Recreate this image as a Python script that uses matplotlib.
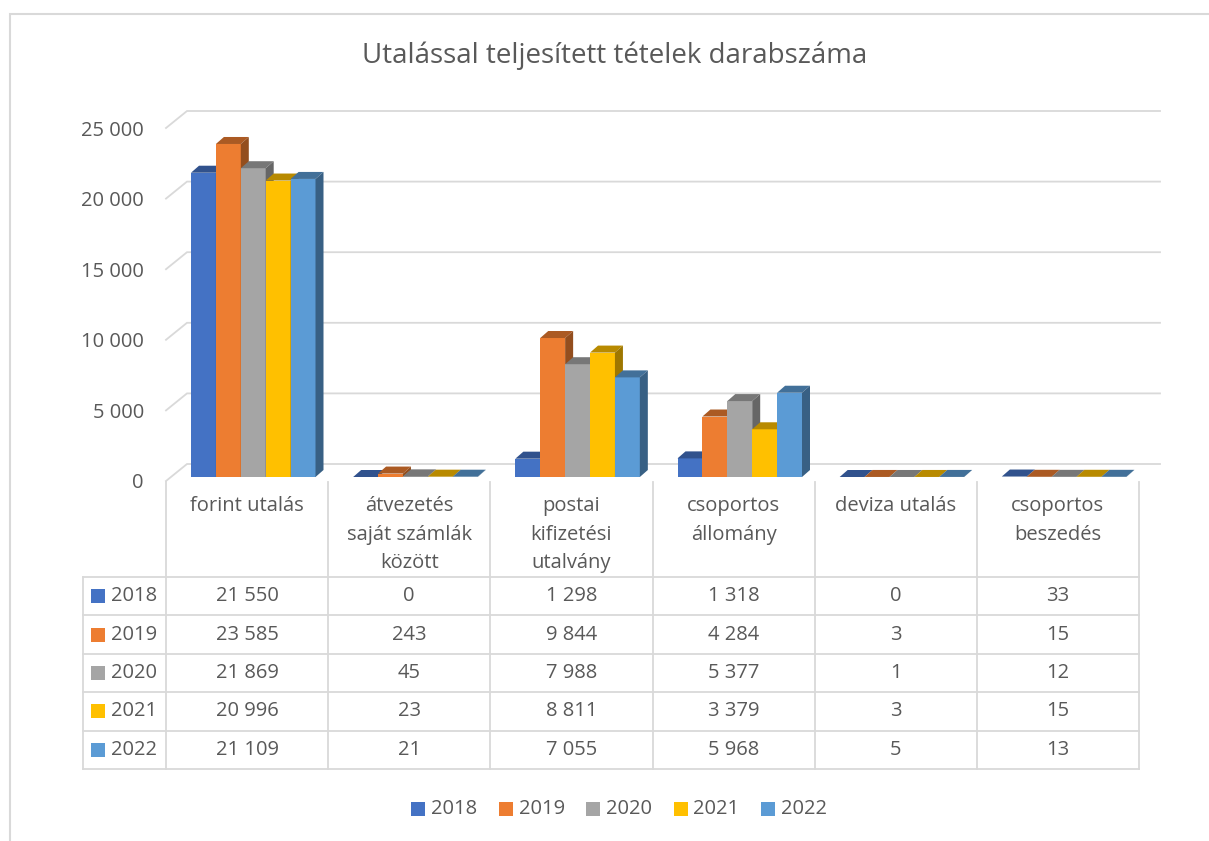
import matplotlib
matplotlib.use("Agg")
import matplotlib.pyplot as plt
from matplotlib.patches import Polygon, Rectangle
from matplotlib.ticker import FuncFormatter
import numpy as np

plt.rcParams['font.family'] = ['Open Sans', 'DejaVu Sans']

# ---------------- data ----------------
title = "Utalással teljesített tételek darabszáma"
categories = ["forint utalás", "átvezetés\nsaját számlák\nközött", "postai\nkifizetési\nutalvány",
              "csoportos\nállomány", "deviza utalás", "csoportos\nbeszedés"]
years = ["2018", "2019", "2020", "2021", "2022"]
v2018 = [21550, 0, 1298, 1318, 0, 33]
v2019 = [23585, 243, 9844, 4284, 3, 15]
v2020 = [21869, 45, 7988, 5377, 1, 12]
v2021 = [20996, 23, 8811, 3379, 3, 15]
v2022 = [21109, 21, 7055, 5968, 5, 13]
series = [v2018, v2019, v2020, v2021, v2022]
yticks = [0, 5000, 10000, 15000, 20000, 25000]

colors = ["#4472C4", "#ED7D31", "#A5A5A5", "#FFC000", "#5B9BD5"]
TXT = "#595959"
GRID = "#D9D9D9"

def fmt(v):
    return f"{int(v):,}".replace(",", " ")

def shade(c, f):
    c = np.array(matplotlib.colors.to_rgb(c))
    return tuple(c * f)

# ---------------- layout (pixels) ----------------
W, H = 1209, 841
X0, X1 = 166, 1139          # table / category span
Y0, Y25 = 481, 128          # value axis: 0 and 25000
CW = (X1 - X0) / 6.0
PPU = (Y0 - Y25) / 25000.0  # pixels per unit

fig = plt.figure(figsize=(W / 100, H / 100), dpi=100)
fig.patch.set_facecolor("white")

ax = fig.add_axes([X0 / W, (H - Y0) / H, (X1 - X0) / W, (Y0 - Y25) / H])
ax.set_xlim(0, 6)
ax.set_ylim(0, 25000)
ax.set_facecolor("none")
for s in ax.spines.values():
    s.set_visible(False)
ax.set_xticks([])
ax.set_yticks(yticks)
ax.yaxis.set_major_formatter(FuncFormatter(lambda v, p: fmt(v)))
ax.tick_params(axis="y", length=0, pad=16, labelsize=14.5, labelcolor=TXT)

# depth geometry in data units
WALL_DX = 21 / CW
WALL_DY = 17 / PPU
RIGHT_END = (1160 - X0) / CW
BAR_OFF = 25 / CW
BAR_W = 24.9 / CW
BAR_BOT = 4 / PPU
SIDE_DX = 8 / CW
SIDE_DY = 7 / PPU

# walls' gridlines
for v in yticks:
    ax.plot([0, WALL_DX, RIGHT_END], [v, v + WALL_DY, v + WALL_DY],
            color=GRID, lw=1.3, clip_on=False, zorder=1, solid_joinstyle="miter")

# 3D bars
z = 2
for c in range(len(categories)):
    for i, vals in enumerate(series):
        v = vals[c]
        x0 = c + BAR_OFF + i * BAR_W
        b = BAR_BOT
        t = b + v
        ax.bar(x0, v, width=BAR_W, bottom=b, align="edge", color=colors[i],
               linewidth=0, zorder=z, clip_on=False)
        top = Polygon([(x0, t), (x0 + BAR_W, t), (x0 + BAR_W + SIDE_DX, t + SIDE_DY),
                       (x0 + SIDE_DX, t + SIDE_DY)], closed=True,
                      facecolor=shade(colors[i], 0.72), edgecolor="none", zorder=z, clip_on=False)
        side = Polygon([(x0 + BAR_W, b), (x0 + BAR_W + SIDE_DX, b + SIDE_DY),
                        (x0 + BAR_W + SIDE_DX, t + SIDE_DY), (x0 + BAR_W, t)], closed=True,
                       facecolor=shade(colors[i], 0.62), edgecolor="none", zorder=z, clip_on=False)
        ax.add_patch(top)
        ax.add_patch(side)
        z += 1

# ---------------- overlay in pixel coordinates ----------------
ov = fig.add_axes([0, 0, 1, 1])
ov.set_xlim(0, W)
ov.set_ylim(H, 0)
ov.axis("off")
ov.set_zorder(5)

# outer border (cropped)
ov.plot([10, 10, W], [H, 14, 14], color=GRID, lw=1.5, solid_joinstyle="miter")

# title
ov.text(615, 56, title, ha="center", va="center", fontsize=20, color=TXT)

# data table
ROW_TOP = 577
RH = (769 - 577) / 5.0
LEFT = 83
for i in range(7):
    x = X0 + i * CW
    ov.plot([x, x], [482, 769], color=GRID, lw=1.3)
ov.plot([LEFT, LEFT], [ROW_TOP, 769], color=GRID, lw=1.3)
for k in range(6):
    y = ROW_TOP + k * RH
    ov.plot([LEFT, X1], [y, y], color=GRID, lw=1.3)

for c, lab in enumerate(categories):
    ov.text(X0 + (c + 0.5) * CW, 496, lab, ha="center", va="top", fontsize=14.5,
            color=TXT, linespacing=1.57)

for r, (yr, vals) in enumerate(zip(years, series)):
    yc = ROW_TOP + (r + 0.5) * RH
    ov.add_patch(Rectangle((91, yc - 7), 14, 14, facecolor=colors[r], edgecolor="none"))
    ov.text(111, yc, yr, ha="left", va="center", fontsize=14.5, color=TXT)
    for c, v in enumerate(vals):
        ov.text(X0 + (c + 0.5) * CW, yc, fmt(v), ha="center", va="center",
                fontsize=14.5, color=TXT)

# bottom legend
lx = 411
for i, yr in enumerate(years):
    x = lx + i * 87.5
    ov.add_patch(Rectangle((x, 802), 14, 14, facecolor=colors[i], edgecolor="none"))
    ov.text(x + 20, 809, yr, ha="left", va="center", fontsize=14.5, color=TXT)

fig.savefig("out.png", dpi=100, facecolor="white")
